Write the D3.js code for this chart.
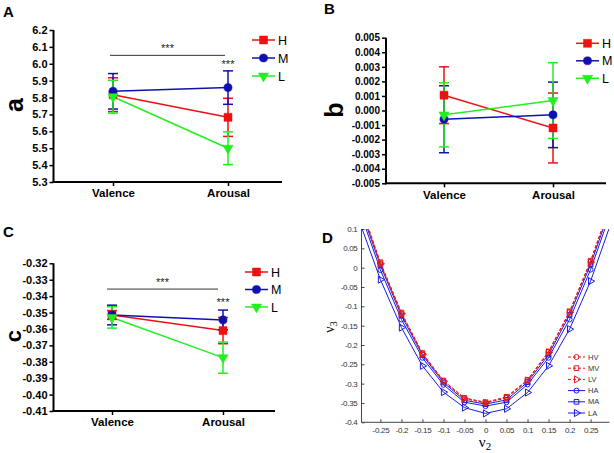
<!DOCTYPE html>
<html><head><meta charset="utf-8">
<script src="https://cdn.jsdelivr.net/npm/d3@7"></script>
<style>body{margin:0;background:#fff}svg{display:block}</style>
</head><body>
<svg id="c" width="614" height="453"></svg>
<script>
// ---------- data ----------
const categories = ["Valence", "Arousal"];
const groups = ["H", "M", "L"];
const groupColors = ["#ee1111", "#1010b0", "#22ee22"];

// Panel A (a)
const aTicks = [5.3, 5.4, 5.5, 5.6, 5.7, 5.8, 5.9, 6.0, 6.1, 6.2];
const aH = [5.817, 5.683], aHerr = [0.100, 0.113];
const aM = [5.837, 5.859], aMerr = [0.105, 0.099];
const aL = [5.805, 5.500], aLerr = [0.097, 0.097];

// Panel B (b)
const bTicks = [-0.005, -0.004, -0.003, -0.002, -0.001, 0, 0.001, 0.002, 0.003, 0.004, 0.005];
const bH = [0.00105, -0.0012], bHerr = [0.00195, 0.0024];
const bM = [-0.0006, -0.0003], bMerr = [0.0023, 0.00225];
const bL = [-0.0003, 0.00068], bLerr = [0.0022, 0.0026];

// Panel C (c)
const cTicks = [-0.41, -0.40, -0.39, -0.38, -0.37, -0.36, -0.35, -0.34, -0.33, -0.32];
const cH = [-0.3515, -0.361], cHerr = [0.0027, 0.008];
const cM = [-0.3515, -0.3545], cMerr = [0.006, 0.006];
const cL = [-0.353, -0.3775], cLerr = [0.0065, 0.0095];

// Panel D
const dXTicks = [-0.25, -0.2, -0.15, -0.1, -0.05, 0, 0.05, 0.1, 0.15, 0.2, 0.25];
const dYTicks = [0.1, 0.05, 0, -0.05, -0.1, -0.15, -0.2, -0.25, -0.3, -0.35, -0.4];
const dX = [-0.3, -0.25, -0.2, -0.15, -0.1, -0.05, 0, 0.05, 0.1, 0.15, 0.2, 0.25, 0.3];
const dHV = [0.168, 0.012, -0.118, -0.222, -0.293, -0.338, -0.349, -0.336, -0.291, -0.218, -0.115, 0.016, 0.170];
const dMV = [0.170, 0.014, -0.116, -0.221, -0.292, -0.337, -0.348, -0.334, -0.290, -0.217, -0.113, 0.018, 0.172];
const dLV = [0.166, 0.010, -0.119, -0.224, -0.294, -0.339, -0.350, -0.337, -0.292, -0.219, -0.116, 0.014, 0.168];
const dHA = [0.149, -0.006, -0.134, -0.233, -0.303, -0.348, -0.358, -0.348, -0.302, -0.233, -0.134, -0.005, 0.150];
const dMA = [0.160, 0.006, -0.124, -0.226, -0.297, -0.343, -0.353, -0.342, -0.296, -0.225, -0.122, 0.008, 0.162];
const dLA = [0.120, -0.031, -0.155, -0.254, -0.322, -0.362, -0.377, -0.365, -0.323, -0.254, -0.159, -0.035, 0.120];
const dNames = ["HV", "MV", "LV", "HA", "MA", "LA"];

// ---------- drawing ----------
const svg = d3.select("#c");
const FONT = "'Liberation Sans', Arial, Helvetica, sans-serif";
const symTypes = [d3.symbolSquare, d3.symbolCircle, d3.symbolTriangle];
const symSizes = [64, 52, 46];

function marker(g, i, x, y, color) {
  g.append("path")
    .attr("d", d3.symbol().type(symTypes[i]).size(symSizes[i])())
    .attr("transform", `translate(${x},${y})` + (i === 2 ? " rotate(180)" : ""))
    .attr("fill", color).attr("stroke", color).attr("stroke-width", 0.5);
}

function panel(o) {
  const g = svg.append("g");
  const y = d3.scaleLinear().domain(o.yDomain).range([o.bottom, o.top]);
  const x = d3.scalePoint().domain(categories).range(o.catX);

  const ya = g.append("g").attr("transform", `translate(${o.left},0)`)
    .call(d3.axisLeft(y).tickValues(o.ticks).tickFormat(d => d.toFixed(o.dec)).tickSize(4).tickSizeOuter(0).tickPadding(2));
  ya.select(".domain").attr("stroke-width", 2).attr("d", `M0,${o.bottom + 1}V${o.top}`);
  ya.selectAll(".tick line").attr("stroke-width", 1.5);
  ya.selectAll("text").attr("font-family", FONT).attr("font-weight", "bold").attr("font-size", o.tickFont).attr("fill", "#000");

  const xa = g.append("g").attr("transform", `translate(0,${o.bottom})`)
    .call(d3.axisBottom(x).tickSize(4).tickSizeOuter(0).tickPadding(3.3));
  xa.select(".domain").remove();
  xa.append("line").attr("x1", o.left - 1).attr("x2", o.right).attr("stroke", "#000").attr("stroke-width", 2);
  xa.selectAll(".tick line").attr("stroke-width", 1.5);
  xa.selectAll("text").attr("font-family", FONT).attr("font-weight", "bold").attr("font-size", 11.5).attr("fill", "#000");

  // axis title
  g.append("text").attr("transform", `translate(${o.labelX},${o.labelY}) rotate(-90)`)
    .attr("text-anchor", "middle").attr("font-family", FONT).attr("font-weight", "bold")
    .attr("font-size", o.labelSize).text(o.label);
  // panel letter
  g.append("text").attr("x", o.letterX).attr("y", o.letterY).attr("font-family", FONT)
    .attr("font-weight", "bold").attr("font-size", 15).text(o.letter);

  // significance
  if (o.sig) {
    g.append("line").attr("x1", x(categories[0]) + o.sig.dx1).attr("x2", x(categories[1]) + o.sig.dx2)
      .attr("y1", y(o.sig.y)).attr("y2", y(o.sig.y)).attr("stroke", "#333").attr("stroke-width", 1);
    g.append("text").attr("x", (x(categories[0]) + x(categories[1])) / 2 + o.sig.dx1)
      .attr("y", y(o.sig.y) - 3).attr("text-anchor", "middle").attr("font-family", FONT)
      .attr("font-size", 11).attr("fill", "#222").text("***");
    g.append("text").attr("x", x(categories[1])).attr("y", y(o.sig.starY))
      .attr("text-anchor", "middle").attr("font-family", FONT)
      .attr("font-size", 11).attr("fill", "#222").text("***");
  }

  // series
  o.series.forEach((s, i) => {
    const c = groupColors[i];
    g.append("path").datum(s.mean)
      .attr("d", d3.line().x((d, k) => x(categories[k])).y(d => y(d)))
      .attr("fill", "none").attr("stroke", c).attr("stroke-width", 1.5);
  });
  o.series.forEach((s, i) => {
    const c = groupColors[i];
    s.mean.forEach((m, k) => {
      const cx = x(categories[k]);
      const y1 = y(m + s.err[k]), y2 = y(m - s.err[k]);
      g.append("line").attr("x1", cx).attr("x2", cx).attr("y1", y1).attr("y2", y2).attr("stroke", c).attr("stroke-width", 1.5);
      [y1, y2].forEach(yy => g.append("line").attr("x1", cx - 5).attr("x2", cx + 5).attr("y1", yy).attr("y2", yy)
        .attr("stroke", c).attr("stroke-width", 1.5));
    });
  });
  o.series.forEach((s, i) => {
    s.mean.forEach((m, k) => marker(g, i, x(categories[k]), y(m), groupColors[i]));
  });

  // legend
  groups.forEach((name, i) => {
    const ly = o.legY + i * o.legDy;
    g.append("line").attr("x1", o.legX).attr("x2", o.legX + 23).attr("y1", ly).attr("y2", ly)
      .attr("stroke", groupColors[i]).attr("stroke-width", 1.5);
    marker(g, i, o.legX + 11.5, ly, groupColors[i]);
    g.append("text").attr("x", o.legX + 26).attr("y", ly).attr("dy", "0.36em")
      .attr("font-family", FONT).attr("font-size", 12.5).text(name);
  });
}

panel({
  left: 53.5, right: 282, top: 30, bottom: 182, catX: [113, 228],
  yDomain: [5.3, 6.2], ticks: aTicks, dec: 1, tickFont: 11,
  label: "a", labelX: 23, labelY: 105, labelSize: 25, letter: "A", letterX: 3, letterY: 17,
  legX: 252, legY: 40, legDy: 18,
  sig: { y: 6.05, dx1: -3, dx2: -3, starY: 5.975 },
  series: [{ mean: aH, err: aHerr }, { mean: aM, err: aMerr }, { mean: aL, err: aLerr }]
});
panel({
  left: 386, right: 606, top: 37.7, bottom: 183.3, catX: [444, 553],
  yDomain: [-0.005, 0.005], ticks: bTicks, dec: 3, tickFont: 10,
  label: "b", labelX: 343, labelY: 110, labelSize: 25, letter: "B", letterX: 324, letterY: 14,
  legX: 576, legY: 43.3, legDy: 17.5,
  series: [{ mean: bH, err: bHerr }, { mean: bM, err: bMerr }, { mean: bL, err: bLerr }]
});
panel({
  left: 53.5, right: 275, top: 263.3, bottom: 411, catX: [112, 223],
  yDomain: [-0.41, -0.32], ticks: cTicks, dec: 2, tickFont: 11,
  label: "c", labelX: 21, labelY: 336, labelSize: 22, letter: "C", letterX: 3, letterY: 237,
  legX: 245, legY: 272, legDy: 17.5,
  sig: { y: -0.3357, dx1: -5, dx2: -5, starY: -0.3463 },
  series: [{ mean: cH, err: cHerr }, { mean: cM, err: cMerr }, { mean: cL, err: cLerr }]
});

// ---------- Panel D ----------
(function () {
  const g = svg.append("g");
  const L = 361.5, R = 609.5, T = 229, B = 422.3;
  const x = d3.scaleLinear().domain([-0.295, 0.295]).range([L, R]);
  const y = d3.scaleLinear().domain([-0.4, 0.1]).range([B, T]);
  const fmt = d => String(+d.toFixed(2));

  const ya = g.append("g").attr("transform", `translate(${L},0)`)
    .call(d3.axisLeft(y).tickValues(dYTicks).tickFormat(fmt).tickSize(-3).tickSizeOuter(0).tickPadding(4));
  const xa = g.append("g").attr("transform", `translate(0,${B})`)
    .call(d3.axisBottom(x).tickValues(dXTicks).tickFormat(fmt).tickSize(-3).tickSizeOuter(0).tickPadding(5));
  [ya, xa].forEach(a => {
    a.select(".domain").attr("stroke", "#444").attr("stroke-width", 1);
    a.selectAll(".tick line").attr("stroke", "#444");
    a.selectAll("text").attr("font-family", FONT).attr("font-size", 8).attr("fill", "#333")
      .attr("letter-spacing", "-0.3");
  });
  xa.select(".domain").attr("d", `M${L},0H${R}`);
  ya.select(".domain").attr("d", `M0,${B}V${T}`);

  svg.append("defs").append("clipPath").attr("id", "clipD")
    .append("rect").attr("x", L).attr("y", T).attr("width", R - L).attr("height", B - T);

  const series = [dHV, dMV, dLV, dHA, dMA, dLA];
  const colors = ["#e41a1c", "#e41a1c", "#e41a1c", "#1a1ae0", "#1a1ae0", "#1a1ae0"];
  const dashes = ["3,2", "3,2", "3,2", null, null, null];
  const dSym = [d3.symbolCircle, d3.symbolSquare, d3.symbolTriangle];
  const dSize = [20, 22, 22];
  function dMarker(gg, i, cx, cy, color) {
    const k = i % 3;
    gg.append("path").attr("d", d3.symbol().type(dSym[k]).size(dSize[k])())
      .attr("transform", `translate(${cx},${cy})` + (k === 2 ? " rotate(90)" : ""))
      .attr("fill", "none").attr("stroke", color).attr("stroke-width", 1);
  }
  const plot = g.append("g").attr("clip-path", "url(#clipD)");
  const order = [3, 4, 5, 0, 1, 2];
  order.forEach(i => {
    plot.append("path").datum(series[i])
      .attr("d", d3.line().x((d, k) => x(dX[k])).y(d => y(d)))
      .attr("fill", "none").attr("stroke", colors[i]).attr("stroke-width", 1)
      .attr("stroke-dasharray", dashes[i]);
    series[i].forEach((v, k) => {
      if (k > 0 && k < dX.length - 1) dMarker(plot, i, x(dX[k]), y(v), colors[i]);
    });
  });

  // legend
  dNames.forEach((n, i) => {
    const ly = 357 + i * 11.2;
    g.append("line").attr("x1", 568).attr("x2", 585).attr("y1", ly).attr("y2", ly)
      .attr("stroke", colors[i]).attr("stroke-width", 1).attr("stroke-dasharray", dashes[i]);
    dMarker(g, i, 576.5, ly, colors[i]);
    g.append("text").attr("x", 588).attr("y", ly).attr("dy", "0.35em").attr("font-family", FONT)
      .attr("font-size", 7.5).attr("fill", "#333").text(n);
  });

  // axis labels
  const xl = g.append("text").attr("x", 485).attr("y", 447).attr("text-anchor", "middle")
    .attr("font-family", "'Liberation Serif', 'Times New Roman', serif").attr("font-size", 15);
  xl.append("tspan").text("ν");
  xl.append("tspan").attr("font-size", 11).attr("dy", 3).text("2");
  const yl = g.append("text").attr("transform", "translate(334,327) rotate(-90)").attr("text-anchor", "middle")
    .attr("font-family", "'Liberation Serif', 'Times New Roman', serif").attr("font-size", 14);
  yl.append("tspan").text("ν");
  yl.append("tspan").attr("font-size", 10).attr("dy", 3).text("3");

  g.append("text").attr("x", 322).attr("y", 243).attr("font-family", FONT)
    .attr("font-weight", "bold").attr("font-size", 15).text("D");
})();
</script>
</body></html>
